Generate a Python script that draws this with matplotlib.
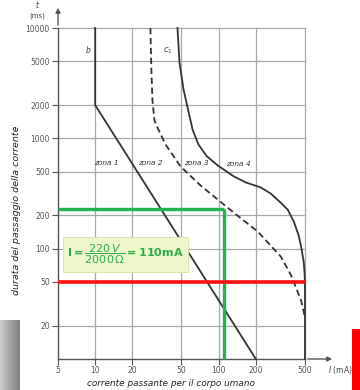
import matplotlib
matplotlib.use("Agg")
import matplotlib.pyplot as plt
import numpy as np
from matplotlib.patches import Rectangle

# ---- data ----
x_ticks = [5, 10, 20, 50, 100, 200, 500]
y_ticks = [20, 50, 100, 200, 500, 1000, 2000, 5000, 10000]
x_grid = [10, 20, 50, 100, 200, 500]
y_grid = [20, 50, 100, 200, 500, 1000, 2000, 5000, 10000]

curve_b_I = [10, 10, 200]
curve_b_t = [10000, 2000, 10]

curve_c1_I = [28.0, 28.5, 29.1, 30.2, 32.5, 37.1, 49.1, 71.3, 107.8, 132.5, 207, 318, 384, 465, 500]
curve_c1_t = [10000, 4238, 2200, 1450, 1200, 881, 556, 374, 256, 212, 143, 85, 58, 34, 23.6]

curve_c2_I = [46.4, 48.2, 51.9, 55.9, 61.5, 68.5, 80.0, 98.1, 132.5, 166, 219, 264, 317, 362,
              406, 445, 470, 488, 497, 500, 500]
curve_c2_t = [10000, 4808, 2787, 1914, 1200, 880, 690, 569, 452, 398, 359, 316, 262, 226,
              176, 131, 98, 76, 58, 42, 10]

zone_labels = ["zona 1", "zona 2", "zona 3", "zona 4"]
zone_I = [12.3, 28, 66, 143]
zone_t = [600, 600, 600, 580]

green_I = 110
green_t = 230
red_t = 50

# ---- figure ----
fig = plt.figure(figsize=(3.6, 3.9), dpi=100)
ax = fig.add_axes([58/360, 1-359/390, 247/360, 331/390])
ax.set_xscale('log')
ax.set_yscale('log')
ax.set_xlim(5, 500)
ax.set_ylim(10, 10000)

grid_c = '#a8a8a8'
for g in x_grid:
    ax.plot([g, g], [10, 10000], color=grid_c, lw=0.9, zorder=1, clip_on=False)
for g in y_grid:
    ax.plot([5, 500], [g, g], color=grid_c, lw=0.9, zorder=1, clip_on=False)

for s in ['top', 'right']:
    ax.spines[s].set_visible(False)
for s in ['left', 'bottom']:
    ax.spines[s].set_color('#555555')
    ax.spines[s].set_linewidth(1.0)

ax.set_xticks(x_ticks)
ax.set_xticklabels([str(v) for v in x_ticks])
ax.set_yticks(y_ticks)
ax.set_yticklabels([str(v) for v in y_ticks])
ax.minorticks_off()
ax.tick_params(axis='both', labelsize=5.5, colors='#555555', length=4, width=0.8, pad=2)
ax.tick_params(axis='x', pad=1)

# arrows
ax.annotate('', xy=(58/360, 1-5/390), xytext=(58/360, 1-28/390), xycoords='figure fraction',
            arrowprops=dict(arrowstyle='-|>', color='#555555', lw=1.0, mutation_scale=7))
ax.annotate('', xy=(335/360, 1-359/390), xytext=(305/360, 1-359/390), xycoords='figure fraction',
            arrowprops=dict(arrowstyle='-|>', color='#555555', lw=1.0, mutation_scale=7))

# curves
ax.plot(curve_b_I, curve_b_t, color='#333333', lw=1.3, zorder=3, clip_on=False)
ax.plot(curve_c1_I, curve_c1_t, color='#333333', lw=1.3, ls=(0, (3.5, 2)), zorder=3, clip_on=False)
ax.plot(curve_c2_I, curve_c2_t, color='#333333', lw=1.3, zorder=3, clip_on=False)

# labels
ax.text(8.8, 6200, 'b', fontsize=5.5, style='italic', color='#444444', ha='center', va='center')
ax.text(38.5, 6200, r'$c_1$', fontsize=6, color='#444444', ha='center', va='center')
for lab, xi, ti in zip(zone_labels, zone_I, zone_t):
    ax.text(xi, ti, lab, fontsize=5.3, style='italic', color='#333333', ha='center', va='center',
            zorder=4)

# green and red lines
ax.plot([5, green_I], [green_t, green_t], color='#1fb54a', lw=2.4, zorder=5, clip_on=False,
        solid_capstyle='butt')
ax.plot([green_I, green_I], [10, green_t], color='#1fb54a', lw=2.4, zorder=5, clip_on=False,
        solid_capstyle='butt')
ax.plot([5, 500], [red_t, red_t], color='#ff1010', lw=2.6, zorder=5, clip_on=False,
        solid_capstyle='butt')

# formula box
box = Rectangle((63/360, 1-272/390), 125/360, 35/390, transform=fig.transFigure,
                facecolor='#eef7cc', edgecolor='#d6e8a8', lw=0.8, zorder=6)
fig.patches.append(box)
fig.text(125.5/360, 1-254.5/390,
         r'$\mathbf{I = \dfrac{\mathit{220\,V}}{\mathit{2000\,\Omega}} = 110mA}$',
         fontsize=8.0, color='#2fae4a', ha='center', va='center', zorder=7)

# axis titles
fig.text(37/360, 1-6/390, 't', fontsize=5.5, style='italic', color='#444444', ha='center', va='center')
fig.text(37/360, 1-16/390, '(ms)', fontsize=5, color='#444444', ha='center', va='center')
fig.text(340/360, 1-370/390, r'$I$ (mA)', fontsize=5.5, color='#444444', ha='center', va='center')
fig.text(17/360, 1-210/390, 'durata del passaggio della corrente', fontsize=6.8, style='italic',
         rotation=90, color='#222222', ha='center', va='center')
fig.text(171/360, 1-384/390, 'corrente passante per il corpo umano', fontsize=6.4, style='italic',
         color='#222222', ha='center', va='center')

# decorative shadow bottom-left
sh = fig.add_axes([0, 0, 20/360, 70/390])
grad = np.linspace(0.8, 0.5, 50)[None, :] * np.ones((30, 1))
sh.imshow(grad, cmap='gray', vmin=0, vmax=1, aspect='auto')
sh.axis('off')

# red bar bottom-right
fig.patches.append(Rectangle((352/360, 0), 8/360, 61/390, transform=fig.transFigure,
                             facecolor='#ff0000', edgecolor='none'))

fig.savefig('out.png', dpi=100)
